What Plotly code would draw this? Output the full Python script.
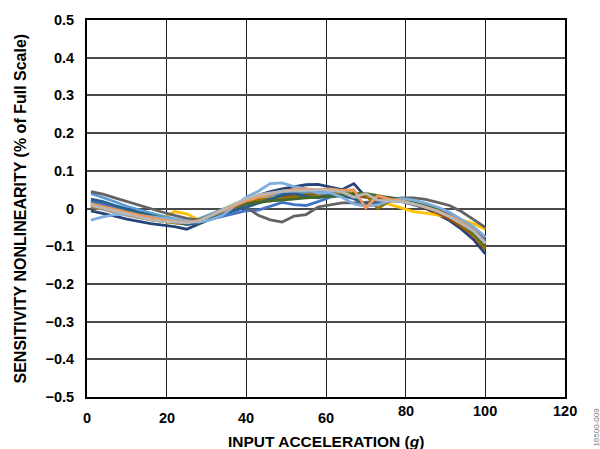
import plotly.graph_objects as go

# x positions (g)
X = [1, 4, 7, 10, 13, 16, 19, 22, 25, 28, 31, 34, 37, 40, 43, 46, 49, 52, 55, 58,
     61, 64, 67, 70, 73, 76, 79, 82, 85, 88, 91, 94, 97, 100]

S1 = [-0.006, -0.012, -0.02, -0.028, -0.035, -0.040, -0.044, -0.048, -0.055, -0.042, -0.028, -0.012, 0.005, 0.022, 0.035, 0.045, 0.052, 0.058, 0.063, 0.064, 0.056, 0.050, 0.066, 0.030, 0.025, 0.022, 0.018, 0.010, 0.000, -0.015, -0.032, -0.055, -0.082, -0.12]
S2 = [0.01, 0.004, -0.004, -0.012, -0.02, -0.026, -0.032, -0.036, -0.040, -0.034, -0.022, -0.008, 0.006, 0.018, 0.026, 0.032, 0.038, 0.042, 0.044, 0.046, 0.048, 0.045, 0.040, 0.034, 0.028, 0.026, 0.022, 0.015, 0.006, -0.006, -0.022, -0.042, -0.064, -0.098]
S3 = [0.005, -0.002, -0.01, -0.018, -0.025, -0.030, -0.034, -0.038, -0.040, -0.036, -0.024, -0.010, 0.008, 0.024, 0.034, 0.040, 0.044, 0.045, 0.046, 0.048, 0.046, 0.042, 0.036, 0.030, 0.024, 0.022, 0.020, 0.014, 0.006, -0.006, -0.020, -0.040, -0.062, -0.095]
S4 = [0.015, 0.008, 0.0, -0.008, -0.016, -0.022, -0.026, -0.008, -0.014, -0.030, -0.016, -0.002, 0.012, 0.020, 0.024, 0.028, 0.032, 0.036, 0.038, 0.040, 0.042, 0.040, 0.036, 0.030, 0.020, 0.010, 0.002, -0.008, -0.012, -0.016, -0.022, -0.030, -0.040, -0.055]
S5 = [0.04, 0.03, 0.018, 0.006, -0.004, -0.012, -0.02, -0.028, -0.034, -0.028, -0.016, -0.004, 0.01, 0.022, 0.03, 0.036, 0.04, 0.042, 0.043, 0.045, 0.046, 0.044, 0.040, 0.034, 0.030, 0.028, 0.026, 0.02, 0.012, 0.002, -0.012, -0.030, -0.050, -0.078]
S6 = [0.02, 0.012, 0.004, -0.004, -0.012, -0.018, -0.024, -0.030, -0.036, -0.030, -0.018, -0.006, 0.006, 0.016, 0.022, 0.026, 0.030, 0.034, 0.036, 0.038, 0.040, 0.040, 0.042, 0.036, 0.030, 0.026, 0.022, 0.016, 0.006, -0.008, -0.024, -0.044, -0.068, -0.10]
S7 = [0.02, 0.01, 0.0, -0.01, -0.018, -0.024, -0.030, -0.036, -0.040, -0.036, -0.028, -0.02, -0.014, -0.006, -0.004, 0.006, 0.016, 0.010, 0.008, 0.018, 0.030, 0.034, 0.032, 0.030, 0.028, 0.026, 0.024, 0.018, 0.010, -0.002, -0.018, -0.036, -0.056, -0.085]
S8 = [0.01, 0.004, -0.004, -0.012, -0.02, -0.026, -0.03, -0.034, -0.038, -0.034, -0.022, -0.008, 0.004, 0.014, 0.02, 0.026, 0.030, 0.034, 0.036, 0.038, 0.040, 0.040, 0.036, 0.030, 0.026, 0.024, 0.020, 0.012, 0.002, -0.012, -0.028, -0.048, -0.072, -0.108]
S9 = [0.045, 0.038, 0.028, 0.018, 0.008, 0.0, -0.01, -0.018, -0.026, -0.030, -0.022, -0.010, 0.0, 0.004, -0.018, -0.030, -0.036, -0.020, -0.016, 0.004, 0.010, 0.015, 0.015, 0.016, 0.018, 0.022, 0.028, 0.028, 0.024, 0.016, 0.008, -0.008, -0.028, -0.05]
S10 = [0.005, 0.0, -0.008, -0.016, -0.024, -0.030, -0.034, -0.038, -0.042, -0.038, -0.024, -0.010, 0.006, 0.018, 0.024, 0.020, 0.026, 0.030, 0.032, 0.034, 0.036, 0.038, 0.040, 0.036, 0.0, 0.02, 0.022, 0.016, 0.006, -0.006, -0.022, -0.044, -0.070, -0.105]
S11 = [0.025, 0.018, 0.008, -0.002, -0.010, -0.018, -0.026, -0.034, -0.042, -0.038, -0.026, -0.014, -0.006, 0.004, 0.012, 0.024, 0.036, 0.040, 0.032, 0.028, 0.036, 0.034, 0.026, 0.012, 0.014, 0.020, 0.024, 0.018, 0.010, -0.002, -0.018, -0.038, -0.060, -0.09]
S12 = [0.012, 0.004, -0.004, -0.010, -0.016, -0.022, -0.028, -0.032, -0.036, -0.032, -0.020, -0.008, 0.004, 0.012, 0.016, 0.020, 0.022, 0.026, 0.028, 0.030, 0.032, 0.034, 0.038, 0.040, 0.034, 0.028, 0.024, 0.018, 0.008, -0.004, -0.020, -0.040, -0.064, -0.098]
S13 = [-0.031, -0.022, -0.016, -0.014, -0.018, -0.022, -0.026, -0.030, -0.034, -0.036, -0.030, -0.018, 0.006, 0.030, 0.046, 0.066, 0.068, 0.058, 0.052, 0.040, 0.042, 0.030, 0.012, 0.006, 0.010, 0.020, 0.026, 0.022, 0.014, 0.004, -0.010, -0.028, -0.048, -0.075]
S14 = [0.012, 0.006, -0.002, -0.010, -0.018, -0.024, -0.030, -0.034, -0.036, -0.032, -0.020, -0.006, 0.008, 0.020, 0.030, 0.038, 0.046, 0.050, 0.052, 0.050, 0.052, 0.048, 0.050, 0.002, 0.034, 0.024, 0.020, 0.012, 0.004, -0.006, -0.020, -0.036, -0.058, -0.09]
S15 = [0.008, 0.0, -0.008, -0.016, -0.024, -0.030, -0.034, -0.036, -0.038, -0.034, -0.020, -0.004, 0.012, 0.026, 0.036, 0.042, 0.046, 0.046, 0.048, 0.050, 0.048, 0.044, 0.030, 0.040, 0.022, 0.020, 0.018, 0.012, 0.004, -0.008, -0.022, -0.040, -0.060, -0.092]

SERIES = [S1, S2, S3, S4, S5, S6, S7, S8, S9, S10, S11, S12, S13, S14, S15]
COLORS = ["#264478", "#ED7D31", "#A5A5A5", "#FFC000", "#5B9BD5", "#70AD47", "#4472C4",
          "#9E480E", "#636363", "#997300", "#255E91", "#43682B", "#7CAFDD", "#F1975A", "#B7B7B7"]

X_TICKS = [0, 20, 40, 60, 80, 100, 120]
Y_TICKS = [0.5, 0.4, 0.3, 0.2, 0.1, 0, -0.1, -0.2, -0.3, -0.4, -0.5]
Y_TICKTEXT = ["0.5", "0.4", "0.3", "0.2", "0.1", "0", "\u22120.1", "\u22120.2", "\u22120.3", "\u22120.4", "\u22120.5"]

FONT = "Liberation Sans, Arial, sans-serif"

fig = go.Figure()
for ys, c in zip(SERIES, COLORS):
    fig.add_trace(go.Scatter(x=X, y=ys, mode="lines", line=dict(color=c, width=2.8),
                             showlegend=False, hoverinfo="skip"))

fig.update_layout(
    width=600, height=449,
    margin=dict(l=87, r=35, t=14, b=52),
    paper_bgcolor="white", plot_bgcolor="white",
    font=dict(family=FONT, color="black"),
)
fig.update_xaxes(range=[0, 120], tickvals=X_TICKS, showticklabels=False,
                 showgrid=True, gridcolor="#1a1a1a", gridwidth=1.2,
                 showline=True, linecolor="black", linewidth=1.8, mirror=True,
                 zeroline=False, ticks="")
fig.update_yaxes(range=[-0.5, 0.5], tickvals=Y_TICKS, ticktext=Y_TICKTEXT,
                 tickfont=dict(family=FONT, size=14.5, weight="bold", color="black"),
                 ticklabelstandoff=8,
                 showgrid=True, gridcolor="#4a4a4a", gridwidth=1.5,
                 showline=True, linecolor="black", linewidth=1.8, mirror=True,
                 zeroline=False, ticks="")

# x tick labels as annotations (original has 80/100/120 slightly raised)
for v in X_TICKS:
    fig.add_annotation(x=v, xref="x", y=0, yref="paper", text=str(v), showarrow=False,
                       yanchor="middle", yshift=-14 if v >= 80 else -21,
                       font=dict(family=FONT, size=14.5, weight="bold", color="black"))

fig.add_annotation(x=0.5, xref="paper", y=0, yref="paper", yshift=-44, yanchor="middle",
                   text="INPUT ACCELERATION (<i>g</i>)", showarrow=False,
                   font=dict(family=FONT, size=15.5, weight="bold", color="black"))
fig.add_annotation(x=-(87 - 20) / 478, xref="paper", y=0.5, yref="paper", textangle=-90,
                   xanchor="center", yanchor="middle",
                   text="SENSITIVITY NONLINEARITY (% of Full Scale)", showarrow=False,
                   font=dict(family=FONT, size=16, weight="bold", color="black"))
fig.add_annotation(x=(597 - 87) / 478, xref="paper", y=-(428 - 397) / 382, yref="paper",
                   textangle=-90, xanchor="center", yanchor="middle",
                   text="16500-009", showarrow=False,
                   font=dict(family=FONT, size=8, color="#777777"))

fig.write_html("out.html", config={"displayModeBar": False},
               post_script="document.body.style.margin='0';document.body.style.overflow='hidden';")
